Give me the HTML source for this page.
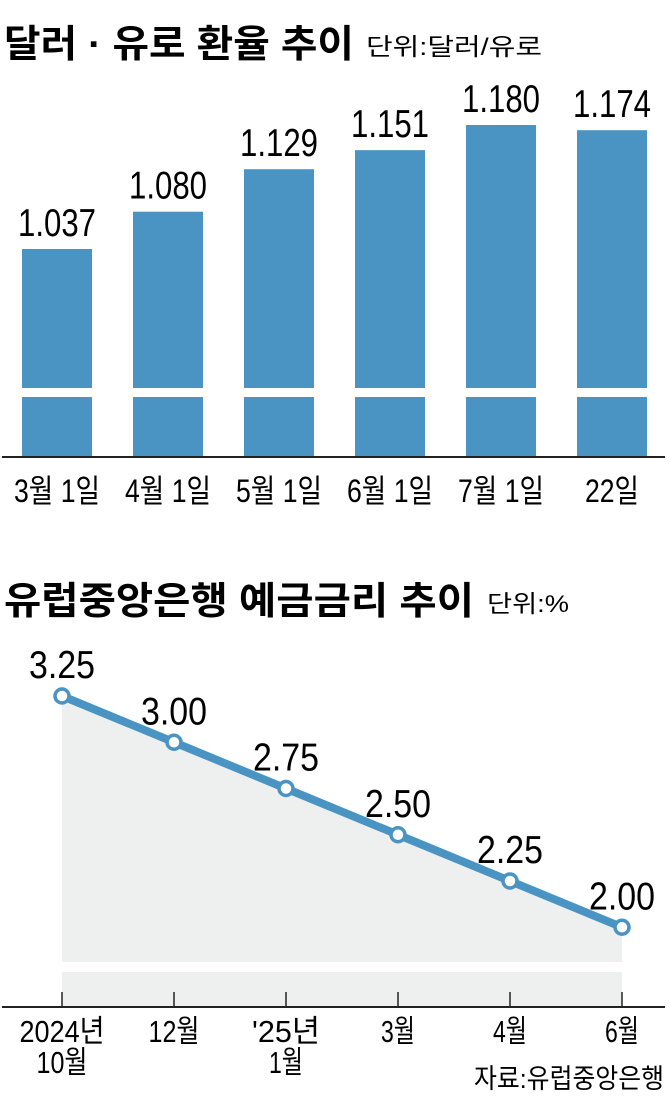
<!DOCTYPE html>
<html><head><meta charset="utf-8"><style>
body{margin:0;width:670px;height:1093px;background:#fff;overflow:hidden;font-family:"Liberation Sans","Noto Sans CJK KR",sans-serif}
svg text{font-family:"Liberation Sans","Noto Sans CJK KR",sans-serif}
</style></head><body>
<svg width="670" height="1093">
<text x="4" y="57" font-size="38" font-weight="bold" textLength="350" lengthAdjust="spacingAndGlyphs">달러 · 유로 환율 추이</text>
<text x="366" y="55" font-size="24" textLength="176" lengthAdjust="spacingAndGlyphs">단위:달러/유로</text>
<g id="bars"></g>
<line x1="2" y1="457" x2="665" y2="457" stroke="#222" stroke-width="2"/>
<text x="4" y="614" font-size="38" font-weight="bold" textLength="470" lengthAdjust="spacingAndGlyphs">유럽중앙은행 예금금리 추이</text>
<text x="487" y="612" font-size="24" textLength="82" lengthAdjust="spacingAndGlyphs">단위:%</text>
<g id="line"></g>
<line x1="2" y1="1007" x2="665" y2="1007" stroke="#222" stroke-width="2"/>
<text x="664" y="1088" font-size="27" text-anchor="end" textLength="190" lengthAdjust="spacingAndGlyphs">자료:유럽중앙은행</text>
</svg>
<script>
const barCats=["3월 1일","4월 1일","5월 1일","6월 1일","7월 1일","22일"];
const barVals=[1.037,1.080,1.129,1.151,1.180,1.174];
const barLabels=["1.037","1.080","1.129","1.151","1.180","1.174"];
const lineCats=[["2024년","10월"],["12월"],["'25년","1월"],["3월"],["4월"],["6월"]];
const lineVals=[3.25,3.00,2.75,2.50,2.25,2.00];
const lineLabels=["3.25","3.00","2.75","2.50","2.25","2.00"];
const NS="http://www.w3.org/2000/svg";
function mk(t,a,p){const e=document.createElementNS(NS,t);for(const k in a)e.setAttribute(k,a[k]);p.appendChild(e);return e;}
const bx=i=>57+i*111;
const by=v=>125+(1.180-v)*867;
const bg=document.getElementById('bars');
barVals.forEach((v,i)=>{
 const r=mk('rect',{x:bx(i)-35,y:by(v),width:70,height:456-by(v),fill:'#4a94c3'},bg);
 
 
 const g=mk('rect',{x:bx(i)-36,y:388,width:72,height:9,fill:'#fff'},bg);
 
 
 const t=mk('text',{x:bx(i),y:by(v)-13,'font-size':39,'text-anchor':'middle',textLength:78,lengthAdjust:'spacingAndGlyphs'},bg);
 t.textContent=barLabels[i];
 
 
 const c=mk('text',{x:bx(i),y:502,'font-size':32,'text-anchor':'middle',textLength:barCats[i].length>3?86:54,lengthAdjust:'spacingAndGlyphs'},bg);
 c.textContent=barCats[i];
 
 
});
const lx=i=>62+i*112;
const ly=v=>696+(3.25-v)*185;
const lg=document.getElementById('line');
let pts=lineVals.map((v,i)=>lx(i)+','+ly(v)).join(' ');
const area=mk('polygon',{points:lx(0)+',962 '+pts+' '+lx(5)+',962',fill:'#eeefef'},lg);


const a2=mk('rect',{x:lx(0),y:972,width:lx(5)-lx(0),height:35,fill:'#eeefef'},lg);


lineVals.forEach((v,i)=>{
 const tk=mk('line',{x1:lx(i),y1:992,x2:lx(i),y2:1007,stroke:'#222','stroke-width':1.5},lg);
 
 
});
const pl=mk('polyline',{points:pts,fill:'none',stroke:'#4a94c3','stroke-width':8},lg);


lineVals.forEach((v,i)=>{
 const c=mk('circle',{cx:lx(i),cy:ly(v),r:7,fill:'#fff',stroke:'#4a94c3','stroke-width':3.5},lg);
 
 
 const t=mk('text',{x:lx(i),y:ly(v)-18,'font-size':39,'text-anchor':'middle',textLength:66,lengthAdjust:'spacingAndGlyphs'},lg);
 t.textContent=lineLabels[i];
 
 
 lineCats[i].forEach((s,j)=>{
  const c2=mk('text',{x:lx(i),y:1042+j*31,'font-size':31,'text-anchor':'middle',textLength:s.length*17,lengthAdjust:'spacingAndGlyphs'},lg);
  c2.textContent=s;
  
  
 });
});
</script>
</body></html>
